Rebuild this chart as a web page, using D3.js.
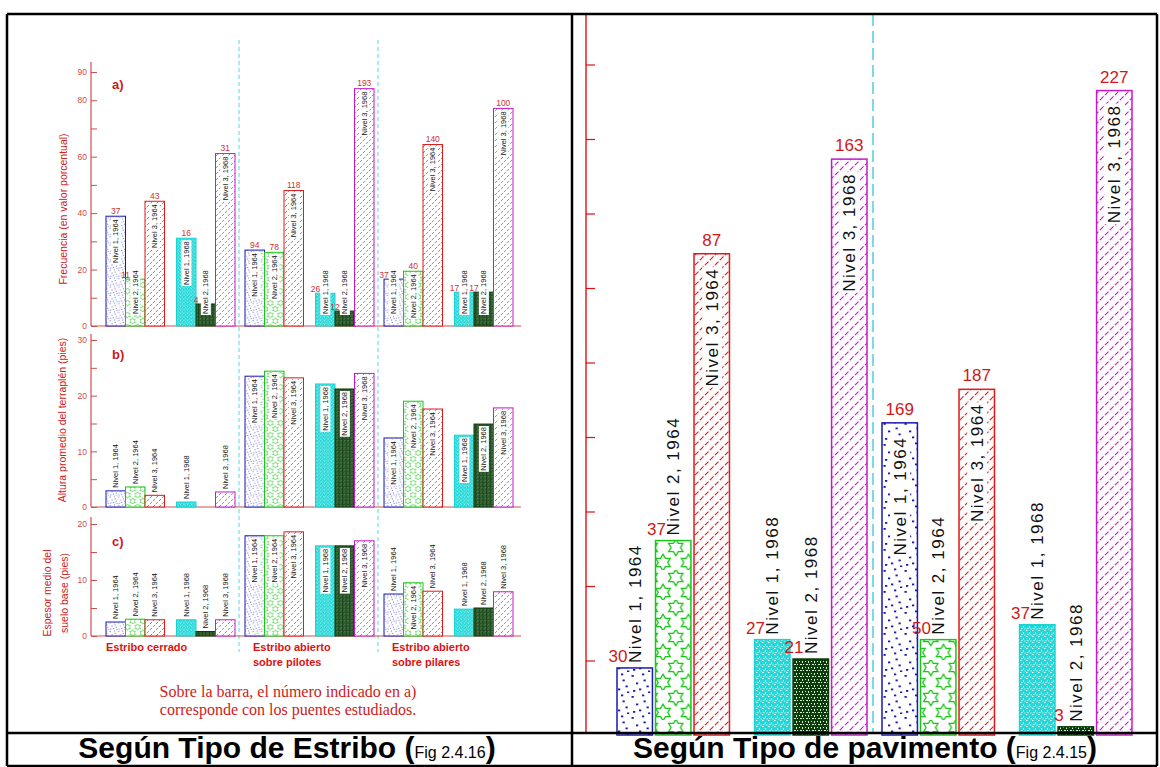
<!DOCTYPE html>
<html>
<head>
<meta charset="utf-8">
<script src="https://cdn.jsdelivr.net/npm/d3@7"></script>
<style>
body { margin: 0; background: #fff; }
svg { display: block; }
</style>
</head>
<body>
<svg id="chart" width="1160" height="767"></svg>
<script>
// ---- data ----
var levels = ["Nivel 1, 1964", "Nivel 2, 1964", "Nivel 3, 1964", "Nivel 1, 1968", "Nivel 2, 1968", "Nivel 3, 1968"];
var estriboGroups = ["Estribo cerrado", "Estribo abierto sobre pilotes", "Estribo abierto sobre pilares"];
var estriboLines = [["Estribo cerrado"], ["Estribo abierto", "sobre pilotes"], ["Estribo abierto", "sobre pilares"]];

// a) frecuencia, % (one row per abutment type, one value per level/year)
var frecuencia = [
  [38.9, 16.6, 44.2, 31.1, 7.8, 61.1],
  [26.9, 26.1, 48.0, 11.6, 5.3, 84.1],
  [16.6, 19.4, 64.3, 12.0, 12.0, 77.1]
];
// number of bridges written over the bars in a)
var puentesEstribo = [
  ["37", "11", "43", "16", "4", "31"],
  ["94", "78", "118", "26", "12", "193"],
  ["37", "40", "140", "17", "17", "100"]
];
// b) altura promedio del terraplen, pies
var alturaTerraplen = [
  [2.9, 3.6, 2.1, 0.9, null, 2.7],
  [23.5, 24.4, 23.2, 22.1, 21.2, 24.0],
  [12.4, 19.0, 17.6, 12.9, 14.9, 17.8]
];
// c) espesor medio del suelo base, pies
var espesorBase = [
  [2.5, 3.0, 2.9, 2.9, 0.8, 2.9],
  [17.9, 17.9, 18.6, 16.1, 16.1, 17.0],
  [7.5, 9.5, 8.0, 4.8, 5.0, 7.9]
];

// right figure: by pavement type (frequency, %)
var pavimentoGroups = ["Pavimento 1", "Pavimento 2"];
var frecuenciaPav = [
  [9.0, 26.1, 64.6, 12.8, 10.2, 77.3],
  [41.9, 12.8, 46.4, 14.8, 1.1, 86.5]
];
var puentesPav = [
  ["30", "37", "87", "27", "21", "163"],
  ["169", "50", "187", "37", "3", "227"]
];

// ---- look ----
var levelStroke = ["#1a1ab4", "#18c818", "#e01818", "#18d4d4", "#0b3d0b", "#c818c8"];
var levelPattern = ["dots", "stars", "hatch", "speck", "dark", "hatchm"];

var svg = d3.select("#chart");
var defs = svg.append("defs");

function starPath(cx, cy, r) {
  var pts = [];
  for (var j = 0; j < 12; j++) {
    var a = -Math.PI / 2 + j * Math.PI / 6;
    var rr = j % 2 === 0 ? r : r / Math.sqrt(3);
    pts.push([(cx + rr * Math.cos(a)).toFixed(2), (cy + rr * Math.sin(a)).toFixed(2)]);
  }
  return "M" + pts.join("L") + "Z";
}

// k = general scale, ks = scale for the bigger motifs (dots, stars)
function makePatterns(sfx, k, ks) {
  function pat(name, w, h, bg, s) {
    var p = defs.append("pattern").attr("id", name + sfx)
      .attr("patternUnits", "userSpaceOnUse")
      .attr("width", w).attr("height", h)
      .attr("patternTransform", "scale(" + s + ")");
    p.append("rect").attr("width", w).attr("height", h).attr("fill", bg);
    return p;
  }
  var p = pat("dots", 14, 14, "#fff", ks);
  [[1, 2], [8, 1], [4, 7], [11, 9], [2, 12], [9, 5], [6, 11], [12, 13]].forEach(function(d) {
    p.append("rect").attr("x", d[0]).attr("y", d[1]).attr("width", 1.5).attr("height", 1.2).attr("fill", levelStroke[0]);
  });

  p = pat("stars", 17, 20, "#fff", ks);
  [[8.5, 5], [0, 15], [17, 15]].forEach(function(c) {
    p.append("path").attr("d", starPath(c[0], c[1], 5.5)).attr("fill", "none")
      .attr("stroke", levelStroke[1]).attr("stroke-width", 0.9);
  });

  ["hatch", "hatchm"].forEach(function(n, i) {
    var q = pat(n, 10, 10, "#fff", k);
    q.append("path").attr("d", "M0,10 L10,0 M-2,2 L2,-2 M8,12 L12,8")
      .attr("stroke", i === 0 ? levelStroke[2] : levelStroke[5])
      .attr("stroke-width", 1.1).attr("stroke-dasharray", "5 2");
  });

  p = pat("speck", 6, 6, "#22d8d8", k);
  [[0, 0, 1.5, 1], [3, 2, 1, 1.5], [1, 4, 1.5, 1], [4.5, 4.5, 1, 1]].forEach(function(d) {
    p.append("rect").attr("x", d[0]).attr("y", d[1]).attr("width", d[2]).attr("height", d[3]).attr("fill", "#fff");
  });

  p = pat("dark", 6, 6, "#0b3d0b", k);
  [[1, 1, 1, 1], [4, 1, 1, 2], [2, 4, 2, 1], [5, 4, 1, 1]].forEach(function(d) {
    p.append("rect").attr("x", d[0]).attr("y", d[1]).attr("width", d[2]).attr("height", d[3]).attr("fill", "#d8ecd8");
  });
}
makePatterns("L", 0.6, 0.6);
makePatterns("R", 1, 1.5);

// rotated label reading bottom-to-top
function barLabel(g, text, font, spacing) {
  return g.append("text")
    .attr("dy", "0.35em")
    .attr("fill", "#111")
    .style("font", font)
    .style("letter-spacing", spacing || null)
    .text(text);
}
function placeLabel(t, cx, y, anchor, bg) {
  t.attr("transform", "translate(" + cx + "," + y + ") rotate(-90)").attr("text-anchor", anchor);
  if (bg) {
    var b = t.node().getBBox();
    d3.select(t.node().parentNode).insert("rect", function() { return t.node(); })
      .attr("transform", "translate(" + cx + "," + y + ") rotate(-90)")
      .attr("x", b.x - 1).attr("y", b.y - 0.5)
      .attr("width", b.width + 2).attr("height", b.height + 1)
      .attr("fill", "#fff");
  }
}

// ================= LEFT: según tipo de estribo =================
var axisColorL = "#cc5050";
var axisXL = 91, axisEndL = 521;
var xEstribo = d3.scaleBand().domain(estriboGroups).range([106, 106 + 3 * 139]);
var xLevelL = d3.scaleBand().domain(levels).range([0, 6 * 19.5]);
var yearGapL = 12;
function barXL(grp, i) { return xEstribo(grp) + xLevelL(levels[i]) + (i >= 3 ? yearGapL : 0); }

var panels = [
  { values: frecuencia, numbers: puentesEstribo, y: d3.scaleLinear().domain([0, 90]).range([326, 72]),
    step: 10, labeled: [0, 20, 40, 60, 80, 90], top: 62, tag: "a)", tagY: 89,
    title: ["Frecuencia (en valor porcentual)"], titleX: [63], titleY: 209, small: "overlap" },
  { values: alturaTerraplen, y: d3.scaleLinear().domain([0, 30]).range([507, 340]),
    step: 5, labeled: [0, 10, 20, 30], top: 334, tag: "b)", tagY: 359,
    title: ["Altura promedio del terraplén (pies)"], titleX: [62], titleY: 420, small: "above" },
  { values: espesorBase, y: d3.scaleLinear().domain([0, 20]).range([636, 524]),
    step: 5, labeled: [0, 10, 20], top: 517, tag: "c)", tagY: 546,
    title: ["Espesor medio del", "suelo base (pies)"], titleX: [47, 64], titleY: 593, small: "above" }
];

var left = svg.append("g");

// dashed separators between abutment types
estriboGroups.slice(1).forEach(function(grp) {
  left.append("line")
    .attr("x1", xEstribo(grp) - 6).attr("x2", xEstribo(grp) - 6)
    .attr("y1", 40).attr("y2", 652)
    .attr("stroke", "#55d8e0").attr("stroke-width", 1).attr("stroke-dasharray", "4 3");
});

panels.forEach(function(pn) {
  var g = left.append("g");
  var y = pn.y;
  var yAxis = d3.axisLeft(y)
    .tickValues(d3.range(0, y.domain()[1] + 0.1, pn.step))
    .tickSize(-6).tickPadding(4)
    .tickFormat(function(d) { return pn.labeled.indexOf(d) >= 0 ? d : ""; });
  var ax = g.append("g").attr("transform", "translate(" + axisXL + ",0)").call(yAxis);
  ax.select(".domain").remove();
  ax.selectAll("line").attr("stroke", axisColorL);
  ax.selectAll("text").attr("fill", "#d04a4a").style("font-size", "8.5px").style("font-family", "'Liberation Sans', Arial, sans-serif");

  g.append("line").attr("x1", axisXL).attr("x2", axisXL).attr("y1", y(0)).attr("y2", pn.top)
    .attr("stroke", axisColorL).attr("stroke-width", 1.2);
  g.append("line").attr("x1", axisXL).attr("x2", axisEndL).attr("y1", y(0)).attr("y2", y(0))
    .attr("stroke", axisColorL).attr("stroke-width", 1.2);

  g.append("text").attr("x", 112).attr("y", pn.tagY).attr("fill", "#d01818")
    .style("font", "bold 13px 'Liberation Sans', Arial, sans-serif").text(pn.tag);

  pn.title.forEach(function(line, li) {
    g.append("text")
      .attr("transform", "translate(" + pn.titleX[li] + "," + pn.titleY + ") rotate(-90)")
      .attr("text-anchor", "middle").attr("dy", "0.35em")
      .attr("fill", "#d02020")
      .style("font", "10.5px 'Liberation Sans', Arial, sans-serif")
      .text(line);
  });

  estriboGroups.forEach(function(grp, gi) {
    pn.values[gi].forEach(function(v, i) {
      if (v == null) return;
      var x = barXL(grp, i), w = xLevelL.bandwidth(), cx = x + w / 2;
      var h = y(0) - y(v);
      g.append("rect").attr("x", x).attr("y", y(v)).attr("width", w).attr("height", h)
        .attr("fill", "url(#" + levelPattern[i] + "L)")
        .attr("stroke", levelStroke[i]).attr("stroke-width", 1);

      var t = barLabel(g, levels[i], "7.5px 'Liberation Sans', Arial, sans-serif");
      var len = t.node().getComputedTextLength();
      var inside = h >= len + 8;
      if (inside) placeLabel(t, cx, y(v) + 3, "end", true);
      else if (pn.small === "overlap") placeLabel(t, cx, y(0) - 12, "start", true);
      else placeLabel(t, cx, y(v) - 3, "start", false);

      if (pn.numbers) {
        g.append("text")
          .attr("x", inside ? cx : x).attr("y", inside ? y(v) - 2.5 : y(v) - 1)
          .attr("text-anchor", "middle").attr("fill", "#d03030")
          .style("font", "8.5px 'Liberation Sans', Arial, sans-serif")
          .text(pn.numbers[gi][i]);
      }
    });
  });
});

// category names under c)
estriboGroups.forEach(function(grp, gi) {
  estriboLines[gi].forEach(function(line, li) {
    left.append("text").attr("x", xEstribo(grp) + (gi === 0 ? 0 : 8)).attr("y", 651 + li * 15)
      .attr("fill", "#dd1111")
      .style("font", "bold 11px 'Liberation Sans', Arial, sans-serif")
      .text(line);
  });
});

["Sobre la barra, el número indicado en a)", "corresponde con los puentes estudiados."].forEach(function(line, li) {
  left.append("text").attr("x", 288).attr("y", 697 + li * 18).attr("text-anchor", "middle")
    .attr("fill", "#cc2222")
    .style("font", "16px 'Liberation Serif', 'Times New Roman', serif")
    .text(line);
});

// ================= RIGHT: según tipo de pavimento =================
var right = svg.append("g");
var axisXR = 586;
var yR = d3.scaleLinear().domain([0, 100]).range([735, -10]);
var xPav = d3.scaleBand().domain(pavimentoGroups).range([617, 617 + 2 * 265]);
var xLevelR = d3.scaleBand().domain(levels).range([0, 6 * 38]).paddingInner(0.08);
var yearGapR = 22;
function barXR(grp, i) { return xPav(grp) + xLevelR(levels[i]) + (i >= 3 ? yearGapR : 0); }

var axR = right.append("g").attr("transform", "translate(" + axisXR + ",0)")
  .call(d3.axisLeft(yR).tickValues(d3.range(10, 91, 10)).tickSize(-9).tickFormat(""));
axR.select(".domain").remove();
axR.selectAll("line").attr("stroke", "#e01010").attr("stroke-width", 1.2);
right.append("line").attr("x1", axisXR).attr("x2", axisXR).attr("y1", 14).attr("y2", 733)
  .attr("stroke", "#e01010").attr("stroke-width", 1.4);

right.append("line")
  .attr("x1", xPav(pavimentoGroups[1]) - 9).attr("x2", xPav(pavimentoGroups[1]) - 9)
  .attr("y1", 14).attr("y2", 733)
  .attr("stroke", "#33c8d8").attr("stroke-width", 1.3).attr("stroke-dasharray", "12 5");

pavimentoGroups.forEach(function(grp, gi) {
  frecuenciaPav[gi].forEach(function(v, i) {
    var x = barXR(grp, i), w = xLevelR.bandwidth(), cx = x + w / 2;
    var h = yR(0) - yR(v);
    right.append("rect").attr("x", x).attr("y", yR(v)).attr("width", w).attr("height", h)
      .attr("fill", "url(#" + levelPattern[i] + "R)")
      .attr("stroke", levelStroke[i]).attr("stroke-width", 1.5);

    var t = barLabel(right, levels[i], "17px 'Liberation Sans', Arial, sans-serif", "1.5px");
    var inside = h >= 250;
    if (inside) placeLabel(t, cx, yR(v) + 14, "end", true);
    else placeLabel(t, cx, yR(v) - 5, "start", false);

    right.append("text")
      .attr("x", inside ? cx : x + 1).attr("y", inside ? yR(v) - 8 : yR(v) - 6)
      .attr("text-anchor", "middle").attr("fill", "#d01818")
      .style("font", "17px 'Liberation Sans', Arial, sans-serif")
      .text(puentesPav[gi][i]);
  });
});

// ================= frame and captions =================
var frame = svg.append("g").attr("stroke", "#000").attr("stroke-width", 2.5);
[[7, 14, 1157, 14], [7, 733, 1157, 733], [7, 766, 1157, 766],
 [7, 14, 7, 766], [572, 14, 572, 766], [1157, 14, 1157, 766]].forEach(function(l) {
  frame.append("line").attr("x1", l[0]).attr("y1", l[1]).attr("x2", l[2]).attr("y2", l[3]);
});

[["Según Tipo de Estribo (", "Fig 2.4.16", 287], ["Según Tipo de pavimento (", "Fig 2.4.15", 865]].forEach(function(c) {
  var t = svg.append("text").attr("x", c[2]).attr("y", 758).attr("text-anchor", "middle")
    .style("font", "bold 30px 'Liberation Sans', Arial, sans-serif").attr("fill", "#000");
  t.append("tspan").text(c[0]);
  t.append("tspan").style("font-weight", "normal").style("font-size", "16px").text(c[1]);
  t.append("tspan").text(")");
});
</script>
</body>
</html>
